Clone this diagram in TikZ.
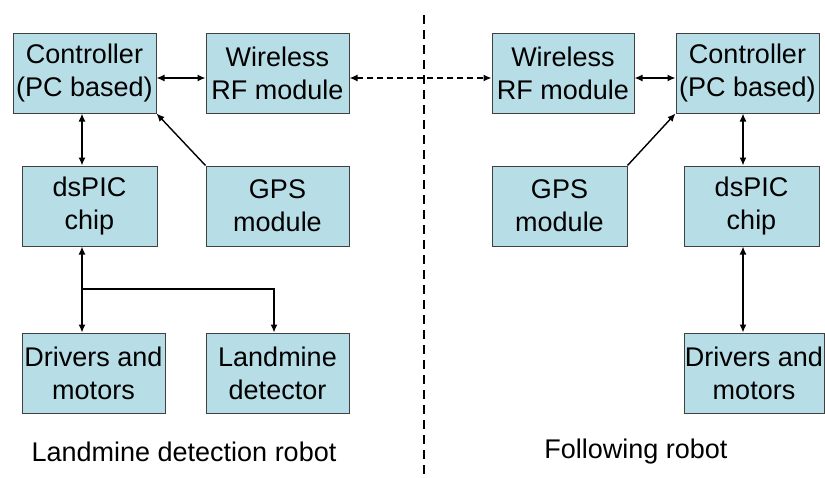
\documentclass[tikz,border=0pt]{standalone}
\usepackage{fontspec}
\setmainfont{Liberation Sans}
\usetikzlibrary{arrows.meta}
\definecolor{boxfill}{RGB}{183,222,230}
\definecolor{boxline}{RGB}{64,64,64}
\tikzset{
  blk/.style={draw=boxline, line width=1pt, fill=boxfill, minimum height=80pt, inner sep=0pt,
    align=center, font=\fontsize{27}{33}\selectfont},
  conn/.style={line width=1.4pt, black, arrows={-Latex[length=8pt,width=7pt]}},
  conn2/.style={line width=1.4pt, black, arrows={Latex[length=8pt,width=7pt]-Latex[length=8pt,width=7pt]}},
  lbl/.style={font=\fontsize{27}{33}\selectfont, inner sep=0pt}
}
\begin{document}
\begin{tikzpicture}[x=1pt,y=-1pt]
\useasboundingbox (0,0) rectangle (825,477);
% left robot
\node[blk, minimum width=143pt] (ctrlL) at (84.5,73) {Controller\\(PC based)};
\node[blk, minimum width=143pt] (wlL) at (277.5,73) {Wireless\\RF module};
\node[blk, minimum width=135pt] (dsL) at (89.5,206) {dsPIC\\chip};
\node[blk, minimum width=143pt] (gpsL) at (277.5,206) {GPS\\module};
\node[blk, minimum width=143pt] (drvL) at (93.5,373) {Drivers and\\motors};
\node[blk, minimum width=143pt] (ldL) at (277.5,373) {Landmine\\detector};
% right robot
\node[blk, minimum width=142pt] (wlR) at (563,73) {Wireless\\RF module};
\node[blk, minimum width=143pt] (ctrlR) at (747.5,73) {Controller\\(PC based)};
\node[blk, minimum width=135pt] (gpsR) at (559.5,206) {GPS\\module};
\node[blk, minimum width=135pt] (dsR) at (751.5,206) {dsPIC\\chip};
\node[blk, minimum width=140pt] (drvR) at (754,373) {Drivers and\\motors};
% labels
\node[lbl] (labL) at (184,452) {Landmine detection robot};
\node[lbl] (labR) at (636,452) {Following robot};
% helper coordinates
\coordinate (xl) at (82,0);
\coordinate (xr) at (743,0);
\coordinate (yw) at (0,78);
\coordinate (br) at (274,289);
\coordinate (vtop) at (424,15);
\coordinate (vbot) at (424,477);
% connectors left
\draw[conn2] (ctrlL.east |- yw) -- (wlL.west |- yw);
\draw[conn2] (ctrlL.south -| xl) -- (dsL.north -| xl);
\draw[conn] (gpsL.north west) -- (ctrlL.south east);
\draw[conn2] (dsL.south -| xl) -- (drvL.north -| xl);
\draw[conn] (xl |- br) -- (br) -- (ldL.north -| br);
% wireless link
\draw[conn2, dash pattern=on 6pt off 4pt] (wlL.east |- yw) -- (wlR.west |- yw);
% connectors right
\draw[conn2] (wlR.east |- yw) -- (ctrlR.west |- yw);
\draw[conn] (gpsR.north east) -- (ctrlR.south west);
\draw[conn2] (ctrlR.south -| xr) -- (dsR.north -| xr);
\draw[conn2] (dsR.south -| xr) -- (drvR.north -| xr);
% divider
\draw[line width=1.4pt, dash pattern=on 9pt off 6pt] (vtop) -- (vbot);
\end{tikzpicture}
\end{document}
